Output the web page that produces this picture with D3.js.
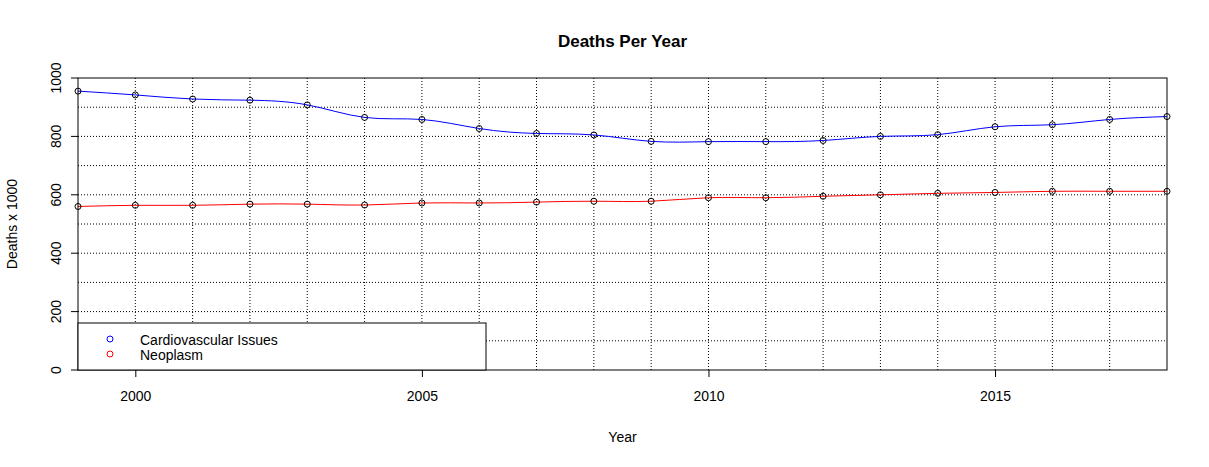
<!DOCTYPE html>
<html><head><meta charset="utf-8">
<script src="https://cdn.jsdelivr.net/npm/d3@7"></script>
<style>body{margin:0;background:#fff}text{font-family:Arial,"Liberation Sans",sans-serif}</style>
</head><body><div id="chart"></div>
<script>
const years = d3.range(1999, 2019);
const cardio = [955, 942, 928, 924, 908, 865, 858, 827, 810, 805, 783, 782, 782, 786, 800, 806, 833, 840, 858, 868];
const neoplasm = [560, 564, 564, 568, 568, 565, 572, 572, 575, 578, 578, 590, 590, 595, 600, 605, 608, 612, 612, 612];
const xTicks = [2000, 2005, 2010, 2015];
const yTicks = [0, 200, 400, 600, 800, 1000];

const width = 1209, height = 467;
const m = { left: 78, right: 1167, top: 78, bottom: 370 };

const svg = d3.select("#chart").append("svg").attr("width", width).attr("height", height);
const x = d3.scaleLinear().domain([1999, 2018]).range([m.left, m.right]);
const y = d3.scaleLinear().domain([0, 1000]).range([m.bottom, m.top]);

// grid
svg.append("g").selectAll("line").data(years.slice(1, -1)).join("line")
  .attr("x1", d => x(d)).attr("x2", d => x(d)).attr("y1", m.top).attr("y2", m.bottom)
  .attr("stroke", "#000").attr("stroke-dasharray", "1,2");
svg.append("g").selectAll("line").data(d3.range(100, 1000, 100)).join("line")
  .attr("x1", m.left).attr("x2", m.right).attr("y1", d => y(d)).attr("y2", d => y(d))
  .attr("stroke", "#000").attr("stroke-dasharray", "1,2");

const line = d3.line().x((d, i) => x(years[i])).y(d => y(d)).curve(d3.curveNatural);
svg.append("path").datum(cardio).attr("d", line).attr("fill", "none").attr("stroke", "blue");
svg.append("path").datum(neoplasm).attr("d", line).attr("fill", "none").attr("stroke", "red");

[cardio, neoplasm].forEach(s => {
  svg.append("g").selectAll("circle").data(s).join("circle")
    .attr("cx", (d, i) => x(years[i])).attr("cy", d => y(d)).attr("r", 3)
    .attr("fill", "none").attr("stroke", "#000");
});

// box
svg.append("rect").attr("x", m.left).attr("y", m.top).attr("width", m.right - m.left)
  .attr("height", m.bottom - m.top).attr("fill", "none").attr("stroke", "#000");

// x axis
const xa = svg.append("g").attr("transform", `translate(0,${m.bottom})`)
  .call(d3.axisBottom(x).tickValues(xTicks).tickFormat(d3.format("d")).tickSize(7).tickPadding(14));
xa.select(".domain").remove();
xa.selectAll("text").attr("font-size", 14).attr("fill", "#000");

// y axis (rotated labels, R style)
const ya = svg.append("g");
ya.selectAll("line").data(yTicks).join("line")
  .attr("x1", m.left - 7).attr("x2", m.left).attr("y1", d => y(d)).attr("y2", d => y(d)).attr("stroke", "#000");
ya.selectAll("text").data(yTicks).join("text")
  .attr("transform", d => `translate(${m.left - 17},${y(d)}) rotate(-90)`)
  .attr("text-anchor", "middle").attr("font-size", 14).text(d3.format("d"));

// titles
svg.append("text").attr("x", (m.left + m.right) / 2).attr("y", 47).attr("text-anchor", "middle")
  .attr("font-size", 17).attr("font-weight", "bold").text("Deaths Per Year");
svg.append("text").attr("x", (m.left + m.right) / 2).attr("y", 442).attr("text-anchor", "middle")
  .attr("font-size", 14).text("Year");
svg.append("text").attr("transform", `translate(17,${(m.top + m.bottom) / 2}) rotate(-90)`)
  .attr("text-anchor", "middle").attr("font-size", 14).text("Deaths x 1000");

// legend
svg.append("rect").attr("x", m.left).attr("y", 323).attr("width", 408).attr("height", 47)
  .attr("fill", "#fff").attr("stroke", "#000");
const leg = [["Cardiovascular Issues", "blue"], ["Neoplasm", "red"]];
leg.forEach(([t, c], i) => {
  svg.append("circle").attr("cx", 110).attr("cy", 339 + i * 15).attr("r", 3).attr("fill", "none").attr("stroke", c);
  svg.append("text").attr("x", 140).attr("y", 345 + i * 15).attr("font-size", 14).text(t);
});
</script></body></html>
